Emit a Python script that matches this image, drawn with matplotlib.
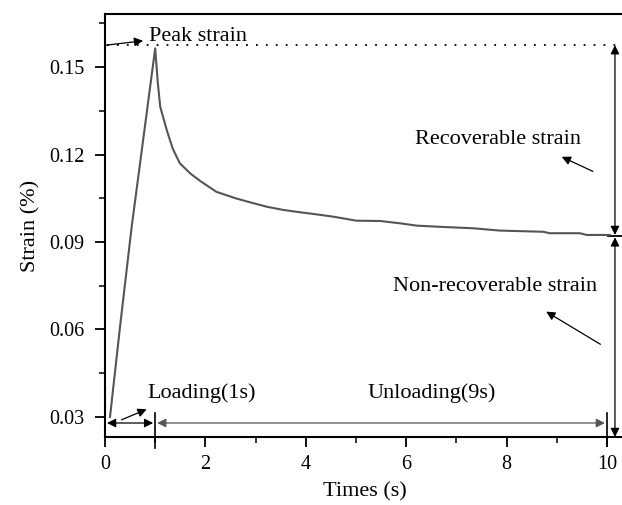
import matplotlib
matplotlib.use("Agg")
import matplotlib.pyplot as plt
from matplotlib.ticker import MultipleLocator

plt.rcParams["font.family"] = ["Liberation Serif", "DejaVu Serif"]
plt.rcParams["font.size"] = 16

# Strain response over one loading / unloading cycle
time_s = [0.10, 0.30, 0.53, 0.76, 1.00, 1.05, 1.10, 1.23, 1.35, 1.49, 1.70, 1.89,
          2.22, 2.60, 2.89, 3.22, 3.55, 3.88, 4.20, 4.54, 5.01, 5.48, 5.88, 6.21,
          6.67, 7.33, 7.87, 8.73, 8.86, 9.46, 9.60, 10.06]
strain_pct = [0.0300, 0.0610, 0.0950, 0.1250, 0.1564, 0.1450, 0.1364, 0.1284,
              0.1220, 0.1170, 0.1135, 0.1110, 0.1072, 0.1050, 0.1036, 0.1021,
              0.1010, 0.1002, 0.0995, 0.0987, 0.0973, 0.0972, 0.0964, 0.0956,
              0.0952, 0.0947, 0.0939, 0.0935, 0.0930, 0.0930, 0.0924, 0.0924]

peak_strain = 0.1575
residual_strain = 0.0924
load_end = 1.0
unload_end = 10.0
span_y = 0.0279
marker_x = 10.16

x_ticks = [0, 2, 4, 6, 8, 10]
y_ticks = [0.03, 0.06, 0.09, 0.12, 0.15]
y_tick_labels = ["0.03", "0.06", "0.09", "0.12", "0.15"]

fig = plt.figure(figsize=(6.22, 5.05), dpi=100)
ax = fig.add_axes([105 / 622, 68 / 505, 519 / 622, 423 / 505])

ax.plot(time_s, strain_pct, color="#555555", lw=1.5, zorder=3)

# peak strain reference
ax.plot([0.04, 10.4], [peak_strain, peak_strain], color="black", lw=1.3,
        linestyle=(0, (1, 4.5)), clip_on=False)

arrow_kw = dict(arrowstyle="-|>", color="black", lw=0.9,
                mutation_scale=13, shrinkA=0, shrinkB=0)
dim_kw = dict(arrowstyle="<|-|>", color="black", lw=0.9,
              mutation_scale=13, shrinkA=0, shrinkB=0)
ax.set_xlim(0, 10.34)
ax.set_ylim(0.0231, 0.1682)

# loading / unloading spans
ax.annotate("", xy=(0.04, span_y), xytext=(0.96, span_y), arrowprops=dim_kw)
ax.annotate("", xy=(1.04, span_y), xytext=(9.96, span_y),
            arrowprops=dict(dim_kw, color="#555555"))
ax.plot([load_end, load_end], [0.0193, 0.0315], color="black", lw=1.2, clip_on=False)
ax.plot([unload_end, unload_end], [0.0200, 0.0315], color="black", lw=1.2, clip_on=False)

# recoverable / non-recoverable spans
ax.annotate("", xy=(marker_x, peak_strain), xytext=(marker_x, residual_strain),
            arrowprops=dim_kw)
ax.annotate("", xy=(marker_x, residual_strain - 0.0008), xytext=(marker_x, 0.0231),
            arrowprops=dim_kw)
ax.plot([10.03, 10.34], [residual_strain - 0.0004] * 2, color="black", lw=1.3,
        clip_on=False)

# labels with pointers
ax.text(0.88, 0.1605, "Peak strain", ha="left", va="center")
ax.annotate("", xy=(0.76, 0.1590), xytext=(0.02, 0.1575), arrowprops=arrow_kw)

ax.text(0.85, 0.0380, "Loading(1s)", ha="left", va="center")
ax.annotate("", xy=(0.83, 0.0326), xytext=(0.33, 0.0290), arrowprops=arrow_kw)

ax.text(6.50, 0.0380, "Unloading(9s)", ha="center", va="center")

ax.text(7.83, 0.1250, "Recoverable strain", ha="center", va="center")
ax.annotate("", xy=(9.10, 0.1192), xytext=(9.72, 0.1142), arrowprops=arrow_kw)

ax.text(7.77, 0.0748, "Non-recoverable strain", ha="center", va="center")
ax.annotate("", xy=(8.79, 0.0661), xytext=(9.87, 0.0549), arrowprops=arrow_kw)

ax.set_xticks(x_ticks)
ax.xaxis.set_minor_locator(MultipleLocator(1))
ax.set_yticks(y_ticks)
ax.set_yticklabels(y_tick_labels)
ax.yaxis.set_minor_locator(MultipleLocator(0.015))

ax.tick_params(which="major", direction="out", length=7, width=1.3, labelsize=14.5)
ax.tick_params(axis="y", which="major", pad=8)
ax.tick_params(axis="x", which="major", pad=6)
ax.tick_params(which="minor", direction="out", length=4, width=1.1)
ax.tick_params(top=False, right=False, which="both")
for s in ax.spines.values():
    s.set_linewidth(1.5)
ax.spines["right"].set_visible(False)

ax.set_xlabel("Times (s)", fontsize=16, labelpad=6)
ax.set_ylabel("Strain (%)", fontsize=16, labelpad=6)

fig.savefig("out.png", dpi=100)
